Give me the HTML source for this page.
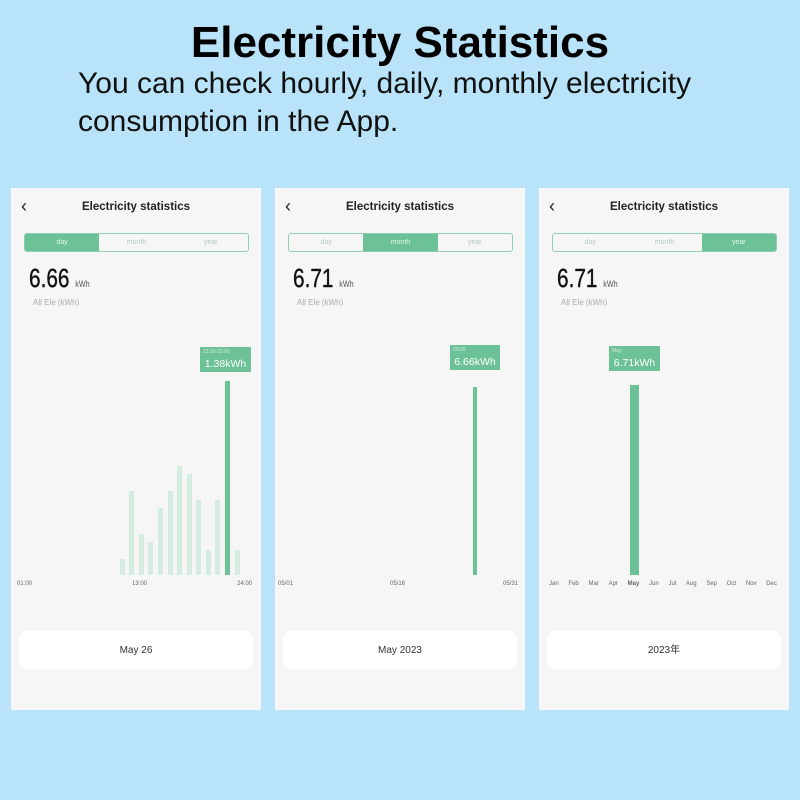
<!DOCTYPE html>
<html><head><meta charset="utf-8"><style>
*{margin:0;padding:0;box-sizing:border-box}
body{width:800px;height:800px;background:#b9e3f8;position:relative;overflow:hidden;font-family:"Liberation Sans",sans-serif}
.a{position:absolute}
h1{position:absolute;left:0;width:800px;top:18px;text-align:center;font-size:44px;font-weight:bold;color:#000;padding-left:0}
.sub{left:78px;top:65px;font-size:30px;line-height:38px;color:#111;white-space:nowrap}
.p{position:absolute;top:188px;width:250px;height:522px;background:#f6f6f6}
.back{left:10px;top:8px;font-size:18px;color:#222}
.title{left:0;width:250px;top:13px;text-align:center;font-size:11.5px;font-weight:bold;color:#222}
.seg{left:13px;top:45px;width:225px;height:19px;border:1px solid #8fcfb0;border-radius:3px;overflow:hidden;display:flex}
.seg div{flex:1;text-align:center;font-size:7px;line-height:17px;color:#b8c8c0}
.seg .on{background:#6cc196;color:#e6f5ed}
.big{left:18px;top:75px;font-size:26px;color:#111;transform:scaleX(.8);transform-origin:left;-webkit-text-stroke:0.4px #111}
.big span{font-size:9px;color:#555;-webkit-text-stroke:0}
.ae{left:22px;top:110px;font-size:8px;color:#aaa}
.bar{position:absolute;background:#d5ede1;width:5px}
.dk{background:#6cc196}
.tip{position:absolute;background:#6cc196;color:#fff;font-size:10.5px;text-align:center;height:25px;padding-top:11px}
.tip i{position:absolute;font-style:normal;font-size:5px;left:3px;top:2px;color:#cfeee0}
.xl{position:absolute;font-size:6px;color:#666;top:393px}
.pill{position:absolute;left:8px;width:234px;top:443px;height:38px;background:#fff;border-radius:8px;text-align:center;font-size:10px;line-height:40px;color:#333}
</style></head><body>
<h1>Electricity Statistics</h1>
<div class="a sub">You can check hourly, daily, monthly electricity<br>consumption in the App.</div>

<div class="p" style="left:11px">
<div class="a back">‹</div><div class="a title">Electricity statistics</div>
<div class="a seg"><div class="on">day</div><div>month</div><div>year</div></div>
<div class="a big">6.66 <span>kWh</span></div><div class="a ae">All Ele (kWh)</div>
<div class="bar" style="left:109px;top:371px;height:16px"></div>
<div class="bar" style="left:118px;top:303px;height:84px"></div>
<div class="bar" style="left:128px;top:346px;height:41px"></div>
<div class="bar" style="left:137px;top:354px;height:33px"></div>
<div class="bar" style="left:147px;top:320px;height:67px"></div>
<div class="bar" style="left:157px;top:303px;height:84px"></div>
<div class="bar" style="left:166px;top:278px;height:109px"></div>
<div class="bar" style="left:176px;top:286px;height:101px"></div>
<div class="bar" style="left:185px;top:312px;height:75px"></div>
<div class="bar" style="left:195px;top:362px;height:25px"></div>
<div class="bar" style="left:204px;top:312px;height:75px"></div>
<div class="bar dk" style="left:214px;top:193px;height:194px"></div>
<div class="bar" style="left:224px;top:362px;height:25px"></div>
<div class="tip" style="left:189px;top:159px;width:51px"><i>21:00-22:00</i>1.38kWh</div>
<div class="xl" style="left:6px">01:00</div><div class="xl" style="left:121px">13:00</div><div class="xl" style="left:226px">24:00</div>
<div class="pill">May 26</div>
</div>

<div class="p" style="left:275px">
<div class="a back">‹</div><div class="a title">Electricity statistics</div>
<div class="a seg"><div>day</div><div class="on">month</div><div>year</div></div>
<div class="a big">6.71 <span>kWh</span></div><div class="a ae">All Ele (kWh)</div>
<div class="bar dk" style="left:198px;top:199px;height:188px;width:4px"></div>
<div class="tip" style="left:175px;top:157px;width:50px"><i>05/26</i>6.66kWh</div>
<div class="xl" style="left:3px">05/01</div><div class="xl" style="left:115px">05/16</div><div class="xl" style="left:228px">05/31</div>
<div class="pill">May 2023</div>
</div>

<div class="p" style="left:539px">
<div class="a back">‹</div><div class="a title">Electricity statistics</div>
<div class="a seg"><div>day</div><div>month</div><div class="on">year</div></div>
<div class="a big">6.71 <span>kWh</span></div><div class="a ae">All Ele (kWh)</div>
<div class="bar dk" style="left:91px;top:197px;height:190px;width:9px"></div>
<div class="tip" style="left:70px;top:158px;width:51px"><i>May</i>6.71kWh</div>
<div class="xl" style="left:10px;width:240px;display:flex;justify-content:space-between;padding-right:12px"><span>Jan</span><span>Feb</span><span>Mar</span><span>Apr</span><span style="font-weight:bold">May</span><span>Jun</span><span>Jul</span><span>Aug</span><span>Sep</span><span>Oct</span><span>Nov</span><span>Dec</span></div>
<div class="pill" style="font-family:'Liberation Sans','Noto Sans CJK SC',sans-serif">2023年</div>
</div>
</body></html>
